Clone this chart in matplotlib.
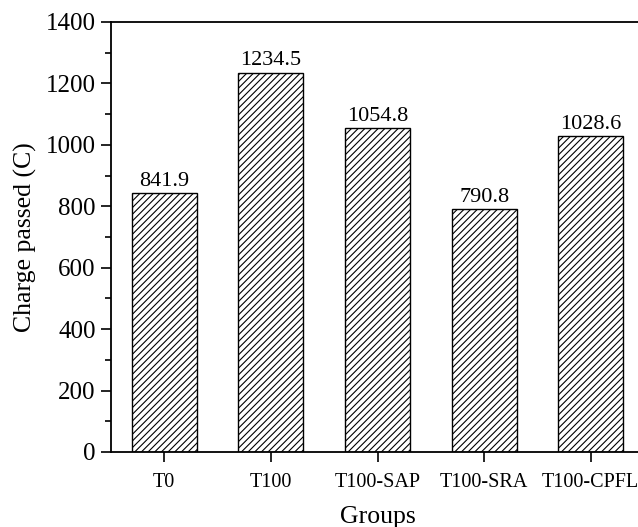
import matplotlib
matplotlib.use("Agg")
import matplotlib.pyplot as plt
from matplotlib.ticker import MultipleLocator

plt.rcParams['font.family'] = ['Liberation Serif', 'DejaVu Serif']
plt.rcParams['hatch.linewidth'] = 0.8

groups = ["T0", "T100", "T100-SAP", "T100-SRA", "T100-CPFL"]
charge = [841.9, 1234.5, 1054.8, 790.8, 1028.6]

fig = plt.figure(figsize=(6.38, 5.27), dpi=100)
ax = fig.add_axes([111/638, 75/527, 533/638, 430/527])

x = range(len(groups))
bars = ax.bar(x, charge, width=0.61, color="white", edgecolor="black",
              linewidth=1.0, hatch="/////")
for xi, v in zip(x, charge):
    ax.text(xi, v + 8, f"{v:.1f}", ha="center", va="bottom", fontsize=16)

ax.set_xlim(-0.5, 4.5)
ax.set_ylim(0, 1400)
ax.set_xticks(list(x))
ax.set_xticklabels(groups, fontsize=14.5)
ax.yaxis.set_major_locator(MultipleLocator(200))
ax.yaxis.set_minor_locator(MultipleLocator(100))
ax.tick_params(axis='y', which='major', direction='out', length=7, width=1.2, labelsize=18, pad=4)
ax.tick_params(axis='y', which='minor', direction='out', length=4, width=1.2)
ax.tick_params(axis='x', which='major', direction='out', length=7, width=1.2, labelsize=14.5, pad=8)
for s in ax.spines.values():
    s.set_linewidth(1.3)
ax.set_xlabel("Groups", fontsize=18.5, labelpad=10)
ax.set_ylabel("Charge passed (C)", fontsize=18.5, labelpad=6)

fig.savefig("out.png", dpi=100)
